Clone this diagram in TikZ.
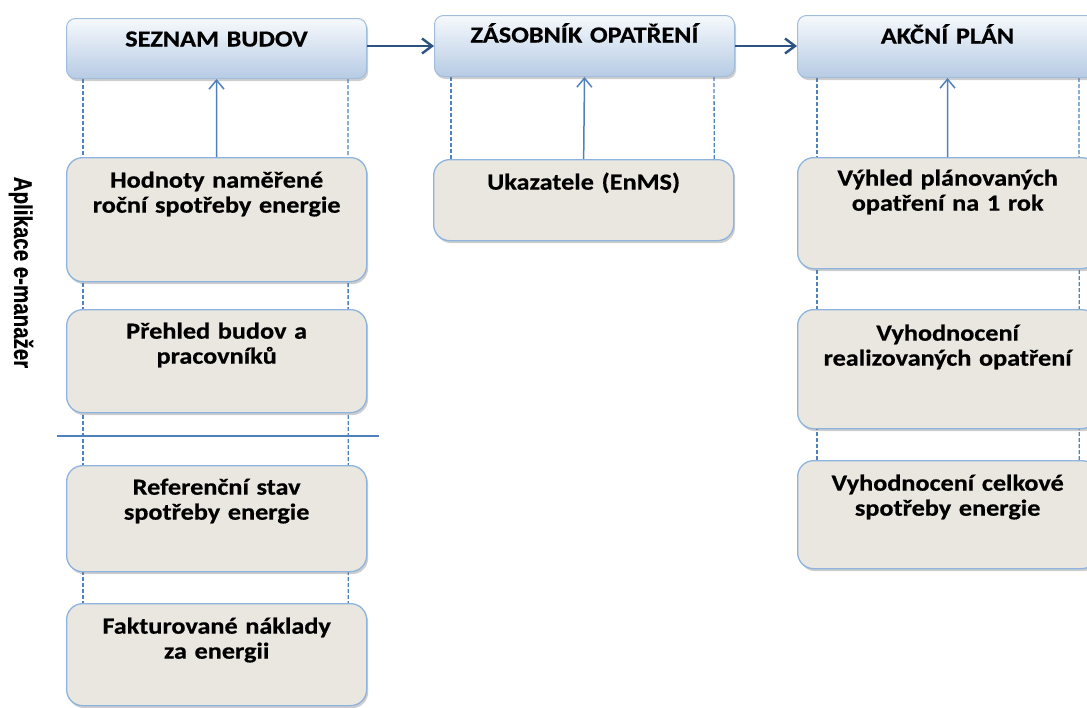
\documentclass[tikz,border=0pt]{standalone}
\usepackage{fontspec}
\usepackage{graphicx}
\setmainfont{Carlito}[FakeStretch=1.14, BoldFeatures={FakeBold=0.6}]
\newfontfamily\arialfont{Liberation Sans}[BoldFeatures={FakeBold=0.5}]
\usetikzlibrary{arrows.meta,shadows,backgrounds,calc}
\definecolor{hdtop}{HTML}{F6F9FC}
\definecolor{hdbot}{HTML}{B6CBE4}
\definecolor{hdborder}{HTML}{A2BDDC}
\definecolor{bxfill}{HTML}{E9E7DF}
\definecolor{bxborder}{HTML}{8EB3DE}
\definecolor{darkarrow}{HTML}{2C5283}
\definecolor{lightline}{HTML}{4F81BD}
\tikzset{
  boxfont/.style={font=\fontsize{23}{25}\selectfont\bfseries},
  softshadow/.style={drop shadow={shadow xshift=1.5pt,shadow yshift=-2.5pt,opacity=0.35,fill=black!55}},
  hdr/.style={draw=hdborder, line width=1pt, rounded corners=9pt,
    top color=hdtop, bottom color=hdbot, inner sep=0pt, text width=300pt,
    align=center, text height=28pt, text depth=#1, anchor=north west,
    boxfont, softshadow},
  bx/.style={draw=bxborder, line width=1.3pt, fill=bxfill, rounded corners=16pt,
    inner sep=0pt, text width=300pt, align=center, text height=30pt,
    text depth=#1, anchor=north west, boxfont, softshadow},
  hdarrow/.style={draw=darkarrow, line width=2.4pt,
    -{Straight Barb[length=10pt,width=15pt]}},
  varrow/.style={draw=lightline, line width=1.5pt,
    -{Straight Barb[length=9pt,width=15pt]}},
  dashline/.style={draw=lightline, line width=1.3pt, dash pattern=on 4pt off 2pt},
  sepline/.style={draw=lightline, line width=1.3pt},
}
\begin{document}
\begin{tikzpicture}[x=1pt,y=-1pt]
\useasboundingbox (0,0) rectangle (1087,707);
% headers
\node[hdr=32pt] (h1) at (66,18) {SEZNAM BUDOV};
\node[hdr=34pt, text height=27pt] (h2) at (434,15) {ZÁSOBNÍK OPATŘENÍ};
\node[hdr=34pt] (h3) at (797,15) {AKČNÍ PLÁN};
% left column
\node[bx=94pt] (b1) at (66,157) {Hodnoty naměřené\\roční spotřeby energie};
\node[bx=74pt, text height=29pt] (b2) at (66,309) {Přehled budov a\\pracovníků};
\node[bx=77pt, text height=29pt] (b3) at (66,465) {Referenční stav\\spotřeby energie};
\node[bx=72pt] (b4) at (66,603) {Fakturované náklady\\za energii};
% middle column
\node[bx=51pt] (b5) at (433,159) {Ukazatele (EnMS)};
% right column
\node[bx=83pt, text height=28pt] (b6) at (797,157) {Výhled plánovaných\\opatření na 1 rok};
\node[bx=88pt, text height=31pt] (b7) at (797,309) {Vyhodnocení\\realizovaných opatření};
\node[bx=78pt] (b8) at (797,460) {Vyhodnocení celkové\\spotřeby energie};
% side label
\node[rotate=-90, inner sep=0pt, font=\arialfont\bfseries\fontsize{20.5}{24}\selectfont] (lbl) at (21,272.5) {\scalebox{1}[1.25]{Aplikace e-manažer}};
% separator
\coordinate (sepL) at (57,436);
\coordinate (sepR) at (379,436);
\draw[sepline] (sepL) -- (sepR);
% dashed guides
\begin{pgfonlayer}{background}
\draw[dashline] ([xshift=17pt]h1.south west) -- ([xshift=17pt]b4.north west);
\draw[dashline] ([xshift=-19pt]h1.south east) -- ([xshift=-19pt]b4.north east);
\draw[dashline] ([xshift=17pt]h2.south west) -- ([xshift=18pt]b5.north west);
\draw[dashline] ([xshift=-21pt]h2.south east) -- ([xshift=-20pt]b5.north east);
\draw[dashline] ([xshift=20pt]h3.south west) -- ([xshift=20pt]b8.north west);
\draw[dashline] ([xshift=-19pt]h3.south east) -- ([xshift=-19pt]b8.north east);
\end{pgfonlayer}
% connectors
\draw[hdarrow] (h1.east |- h2.west) -- (h2.west);
\draw[hdarrow] (h2.east) -- (h3.west |- h2.east);
\draw[varrow] (b1.north) -- (h1.south);
\draw[varrow] (b5.north) -- (h2.south);
\draw[varrow] (b6.north) -- (h3.south);
\end{tikzpicture}
\end{document}
